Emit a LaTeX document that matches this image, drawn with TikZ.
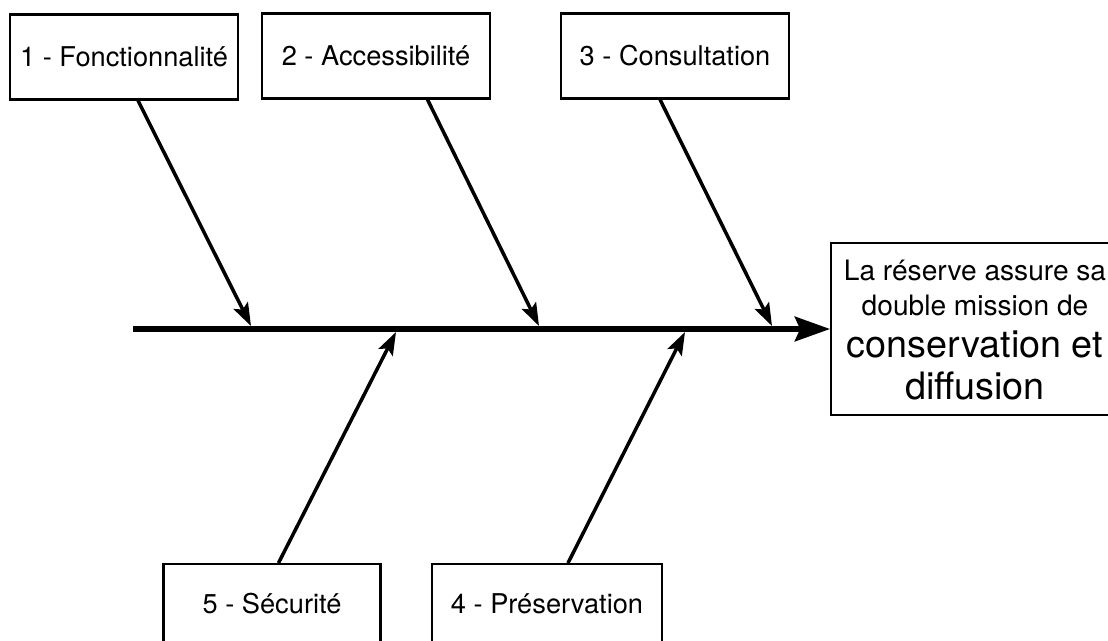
\documentclass[tikz,border=0pt]{standalone}
\usepackage{fontspec}
\setmainfont{TeX Gyre Heros}
\usetikzlibrary{positioning,arrows.meta}

\begin{document}
\begin{tikzpicture}[
        x=0.02cm, y=-0.02cm,
        every node/.style={font=\fontsize{15.5}{18}\selectfont},
        causebox/.style={draw, line width=1.2pt, minimum width=4.55cm, minimum height=1.7cm, inner sep=0pt},
        lowbox/.style={draw, line width=1.2pt, anchor=north, inner ysep=0pt, text height=0.99cm, text depth=2cm},
        goalframe/.style={draw, line width=1.2pt, anchor=west, minimum width=9cm, minimum height=3.44cm, inner sep=0pt},
        goaltext/.style={align=center, inner sep=0pt, font=\fontsize{16}{24}\selectfont},
        causearrow/.style={-{Stealth[length=13pt, width=9pt, inset=2.5pt]}, line width=2pt},
        spine/.style={-{Stealth[length=20pt, width=14pt, inset=3pt]}, line width=3pt}
    ]
        \useasboundingbox (0,0) rectangle (1108,640);

        % Causes above the spine
        \node[causebox] (fonc) at (124,57) {1 - Fonctionnalité};
        \node[causebox] (acces) at (376,56) {2 - Accessibilité};
        \node[causebox] (consult) at (675,56) {3 - Consultation};

        % Causes below the spine (boxes run off the page)
        \node[lowbox, minimum width=4.34cm] (secur) at (272,563) {5 - Sécurité};
        \node[lowbox, minimum width=4.6cm] (preserv) at (547,563) {4 - Préservation};

        % Effect box (runs off the right edge) and its text
        \node[goalframe] (frame) at (830,329) {};
        \node[goaltext] (mission) at (975,330) {La réserve assure sa\\[-4pt]
            double mission de\\
            {\fontsize{21.5}{24}\selectfont conservation et}\\
            {\fontsize{21.5}{24}\selectfont diffusion}};

        % Spine
        \coordinate (tail) at (133,329);
        \draw[spine] (tail) -- (frame.west);

        % Points where the causes meet the spine
        \coordinate (fonc-end) at (251,326);
        \coordinate (acces-end) at (539,326);
        \coordinate (consult-end) at (772,326);
        \coordinate (secur-end) at (396,332);
        \coordinate (preserv-end) at (685,332);

        % Cause arrows
        \draw[causearrow] ([xshift=0.28cm]fonc.south) -- (fonc-end);
        \draw[causearrow] ([xshift=1.03cm]acces.south) -- (acces-end);
        \draw[causearrow] ([xshift=-0.3cm]consult.south) -- (consult-end);
        \draw[causearrow] ([xshift=0.13cm]secur.north) -- (secur-end);
        \draw[causearrow] ([xshift=0.42cm]preserv.north) -- (preserv-end);

    \end{tikzpicture}
\end{document}
